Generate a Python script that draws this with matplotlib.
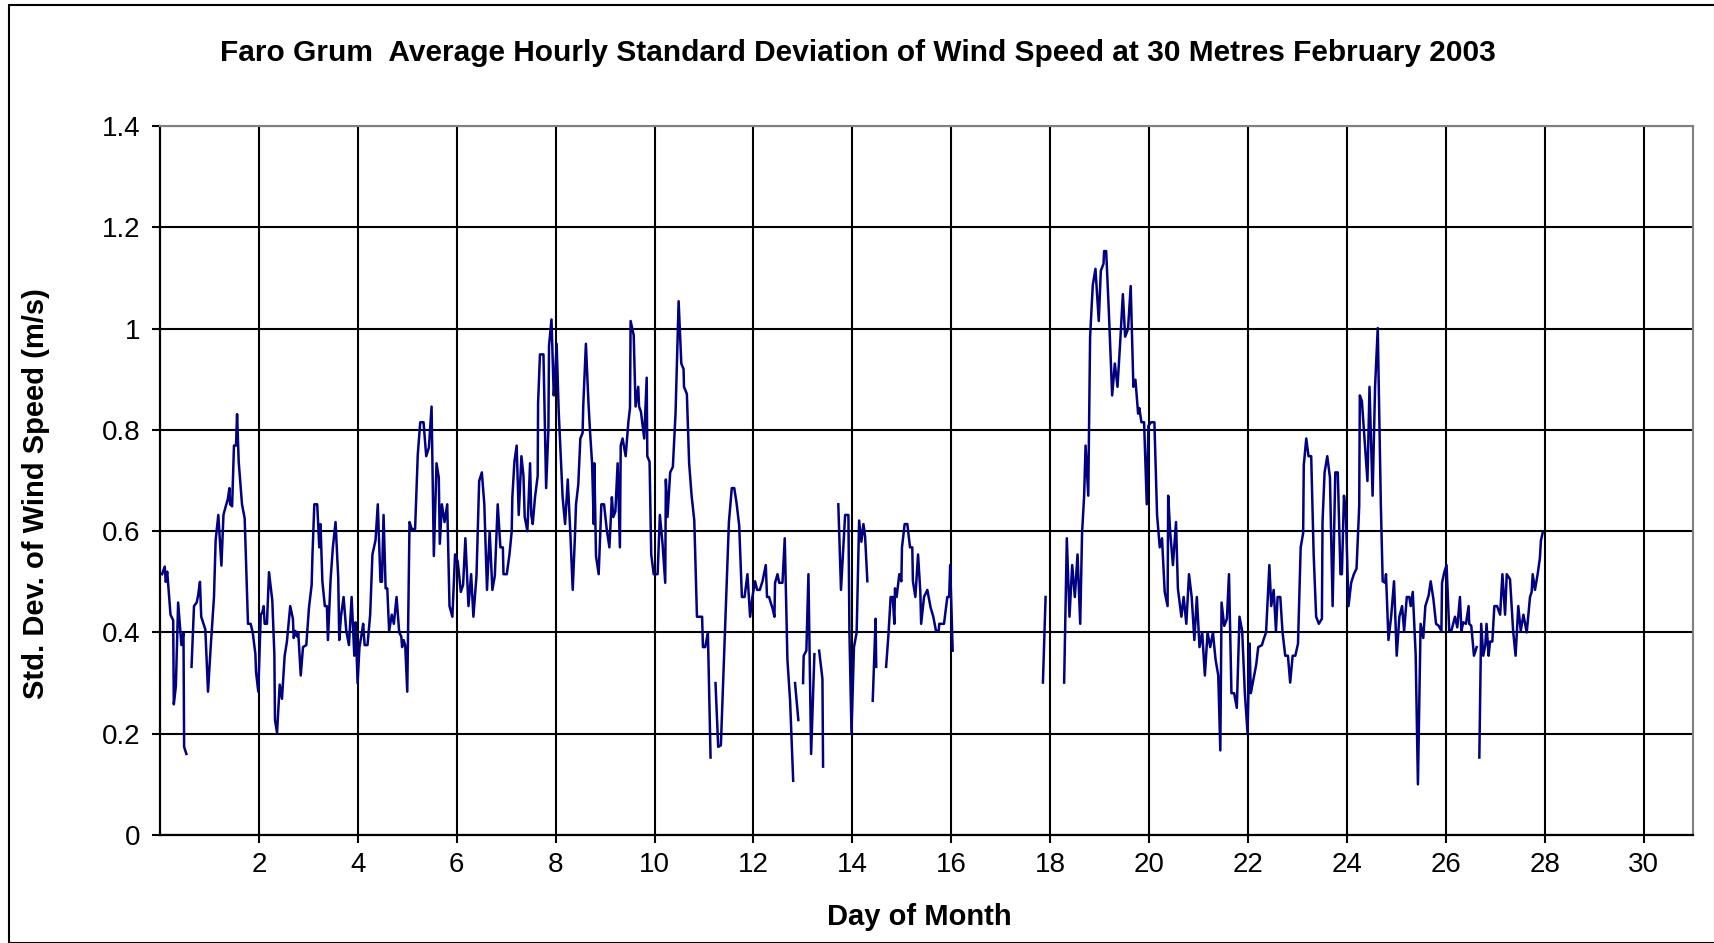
import numpy as np
import matplotlib
matplotlib.use("Agg")
import matplotlib.pyplot as plt
from matplotlib.patches import Rectangle

# ---- data: hour of month (from start) and std. dev. (m/s); None = gap ----
hours = [
    1.0, 2.3, 2.8, 3.5, 5.1, 6.4, 6.7, 7.7, 8.8, 10.4, 11.4, 11.7, 12.8, None,
    15.3, 16.5, 17.8, 18.5, 19.4, 20.0, 20.9, 22.0, 23.3, 24.6, 26.2, 27.0, 28.3, 29.8,
    30.8, 31.9, 32.9, 33.7, 34.0, 35.0, 35.9, 36.9, 37.4, 38.2, 39.8, 41.1, 42.1, 42.7,
    44.0, 45.0, 46.3, 46.6, 47.7, 48.9, 49.7, 50.3, 50.8, 51.9, 52.9,
    54.5, 55.5, 55.8, 56.8, 58.1, 59.2, 60.5, 61.6, 63.2, 64.5, 64.9, 65.7, 66.5, 67.1,
    68.3, 69.4, 71.0, 72.3, 73.6, 74.0, 74.9, 76.3, 77.3, 77.9, 78.8, 80.0, 81.0, 81.5,
    82.8, 83.9, 85.2, 86.5, 87.0, 87.8, 89.1, 90.4, 91.7, 93.0, 94.3, 94.9, 95.9, 96.8,
    98.0, 98.6, 99.3, 100.7, 102.0, 103.1, 104.6, 105.7, 107.0, 107.7, 108.5,
    109.5, 110.3, 111.2, 112.5, 113.5, 114.8, 116.1, 117.1, 117.5, 118.2, 119.0, 120.0,
    121.1, 122.2, 123.8, 125.1, 126.3, 127.9, 129.2, 130.5, 131.8, 132.9, 134.2, 135.3,
    135.8, 136.8, 138.1, 139.4, 140.5, 141.9, 143.2, 144.5, 146.0, 147.1, 148.2, 149.7,
    151.0, 152.1, 153.6, 154.9, 156.2, 157.4, 158.7, 160.0, 161.3, 162.5, 163.9,
    165.2, 166.4, 166.7, 168.3, 169.6, 170.7, 171.0, 172.0, 173.1, 174.1, 175.4, 176.4,
    177.0, 178.3, 179.6, 180.2, 180.9, 182.0, 183.3, 183.5, 184.4, 186.1, 187.4, 188.5,
    188.8, 190.0, 191.1, 191.6, 192.5, 193.5, 194.5, 195.4, 196.6, 197.9, 199.1, 200.3,
    201.3, 201.9, 203.0, 204.0, 205.1, 205.4, 206.7, 207.9, 208.7, 209.7, 210.5, 210.8,
    211.6, 212.9, 214.2, 215.5, 216.8, 218.1, 219.3, 220.0, 221.0, 222.1,
    223.2, 223.6, 224.5, 226.0, 227.3, 228.1, 228.4, 229.9, 230.8, 232.1, 232.5, 233.4,
    235.0, 236.2, 236.5, 237.6, 238.4, 239.6, 241.5, 242.6, 243.9, 245.2, 245.5, 246.3,
    247.6, 248.9, 250.2, 251.7, 253.0, 254.1, 254.3, 255.7, 256.8, 258.0, 259.3, 260.6,
    263.1, 263.5, 264.6, 265.9, 267.2, None,
    269.6, 270.9, 272.2, 276.1, 277.5, 278.7, 279.8, 281.1, 282.4, 283.7, 285.1, 286.4,
    287.5, 288.8, 289.8, 291.1, 292.4, 294.0, 294.6, 295.6, 296.6, 297.2, 298.2, 298.5,
    299.7, 300.5, 302.1, 303.2, 304.5, 305.8, 307.3, None,
    308.2, 309.8, None,
    312.1, 312.4, 313.7, 314.7, 316.0, 317.6, None,
    319.9, 321.5, 321.8, None,
    329.2, 330.5, 332.5, 333.4, 334.1, 334.6, 335.6, 336.8, 338.1, 339.3, 340.4, 341.4,
    342.2, 343.3, None,
    345.9, 347.3, 347.6, None,
    352.4, 353.6, 354.6, 355.6, 356.4, 356.7, 357.5, 358.8, 359.8, 360.1, 361.4, 362.7,
    364.0, 365.1, 365.4, 366.6, 367.9, 369.0, 369.4, 370.8, 372.4, 374.0, 375.3, 376.6,
    377.9, 378.2, 380.5, 382.1, 383.0, 383.5, 384.7, None,
    428.5, 429.8, None,
    438.8, 440.1, 441.4, 442.7, 444.0, 445.3, 446.6, 447.5, 448.5, 449.2, 450.5, 451.4,
    452.7, 454.0, 455.6, 456.6, 457.9, 458.2, 459.2, 460.5, 462.1, 463.4, 464.7, 466.0,
    467.3, 468.4, 469.8, 471.1, 472.4, 473.4, 474.7, 475.3, 476.3, 477.6, 478.9,
    479.7, 481.0, 482.6, 483.9, 485.2, 486.3, 487.6, 489.0, 489.3, 490.3, 491.6, 493.1,
    494.0, 495.7, 496.8, 498.1, 499.4, 500.7, 502.0, 503.2, 504.5, 505.8, 507.1, 508.4,
    509.7, 511.0, 512.3, 513.6, 514.6, 515.2, 516.5, 517.8, 518.8, 520.0, 521.3, 522.6,
    523.9, 525.2, 526.5, 527.8, 528.8, 529.4, 530.7, 532.0, 533.0,
    534.8, 535.5, 536.8, 538.4, 539.3, 540.5, 541.6, 542.4, 543.7, 544.8, 546.1, 547.4,
    548.5, 549.7, 551.0, 552.3, 553.6, 554.8, 555.1, 556.3, 557.4, 558.7, 559.9, 561.1,
    562.4, 563.9, 564.2, 565.2, 566.5, 567.8, 569.1, 570.4, 571.6, 572.9, 573.6, 574.6,
    575.5, 576.8, 578.1, 579.4, 580.7, 582.0, 582.3, 583.3, 586.0, 587.0, 588.5, 589.7,
    591.0, 592.5, 593.4, 594.6, 595.0, 596.2, 597.5, 598.9, 600.2, 601.5, 602.8, 603.8,
    605.1, 606.3, 607.0, 608.0, 609.4, 610.5, 611.8, 613.1, 614.1, 615.7, 616.7, 618.0,
    619.3, 620.6, 621.9, 622.2, 623.3, 624.4, 625.7, 626.7, 628.5, 629.6, 630.9, 631.6,
    632.5, 633.8, 635.1, 635.4, 636.4, 637.7, 639.0, None,
    640.3, 641.2, 642.2, 643.2, 643.8, 644.8, 645.5, 646.6, 647.6, 648.9, 650.4, 651.5,
    652.8, 653.6, 655.2, 656.7, 657.9, 659.2, 660.4, 661.7, 663.3, 664.9, 665.7, 666.2,
    667.3, 668.6, 669.7, 670.2, 671.0,
]

std_dev = [
    0.515, 0.53, 0.50, 0.52, 0.435, 0.424, 0.258, 0.294, 0.459, 0.375, 0.40, 0.174, 0.16, None,
    0.332, 0.452, 0.459, 0.473, 0.50, 0.431, 0.42, 0.406, 0.283, 0.371, 0.47, 0.582, 0.632, 0.532,
    0.632, 0.649, 0.663, 0.685, 0.653, 0.649, 0.769, 0.769, 0.831, 0.737, 0.653, 0.625, 0.491, 0.417,
    0.417, 0.40, 0.357, 0.322, 0.283, 0.435, 0.44, 0.452, 0.417, 0.417, 0.519,
    0.463, 0.357, 0.227, 0.202, 0.297, 0.269, 0.354, 0.382, 0.452, 0.427, 0.389, 0.403, 0.392, 0.40,
    0.315, 0.371, 0.375, 0.449, 0.494, 0.554, 0.653, 0.653, 0.568, 0.614, 0.501, 0.452, 0.452, 0.385,
    0.505, 0.568, 0.618, 0.508, 0.385, 0.431, 0.47, 0.403, 0.375, 0.47, 0.354, 0.42, 0.30, 0.371,
    0.40, 0.417, 0.375, 0.375, 0.435, 0.554, 0.582, 0.653, 0.50, 0.50, 0.632,
    0.487, 0.487, 0.403, 0.435, 0.417, 0.47, 0.40, 0.392, 0.371, 0.385, 0.375, 0.283,
    0.618, 0.604, 0.604, 0.751, 0.815, 0.815, 0.748, 0.765, 0.846, 0.551, 0.734, 0.706,
    0.575, 0.653, 0.618, 0.653, 0.452, 0.431, 0.554, 0.54, 0.48, 0.494, 0.586, 0.452,
    0.515, 0.431, 0.512, 0.699, 0.716, 0.653, 0.484, 0.60, 0.484, 0.512, 0.653,
    0.568, 0.568, 0.515, 0.515, 0.554, 0.60, 0.667, 0.737, 0.769, 0.632, 0.748, 0.709,
    0.628, 0.60, 0.734, 0.632, 0.614, 0.667, 0.709, 0.854, 0.949, 0.949, 0.685, 0.801,
    0.966, 1.018, 0.868, 0.896, 0.970, 0.836, 0.748, 0.667, 0.614, 0.702, 0.60, 0.484,
    0.582, 0.653, 0.692, 0.783, 0.794, 0.846, 0.970, 0.857, 0.797, 0.734, 0.614, 0.734,
    0.551, 0.515, 0.653, 0.653, 0.604, 0.568, 0.667, 0.628, 0.639, 0.734,
    0.568, 0.769, 0.783, 0.748, 0.815, 0.843, 1.015, 0.987, 0.846, 0.885, 0.846, 0.836,
    0.783, 0.903, 0.748, 0.737, 0.554, 0.515, 0.515, 0.632, 0.575, 0.498, 0.702, 0.628,
    0.716, 0.727, 0.832, 1.054, 0.931, 0.920, 0.885, 0.871, 0.734, 0.670, 0.621, 0.431,
    0.431, 0.371, 0.371, 0.40, 0.153, None,
    0.30, 0.174, 0.177, 0.618, 0.685, 0.685, 0.656, 0.611, 0.47, 0.47, 0.515, 0.431,
    0.47, 0.501, 0.484, 0.484, 0.501, 0.533, 0.47, 0.47, 0.456, 0.449, 0.431, 0.498,
    0.515, 0.498, 0.498, 0.586, 0.346, 0.265, 0.107, None,
    0.30, 0.227, None,
    0.30, 0.354, 0.364, 0.515, 0.16, 0.357, None,
    0.364, 0.308, 0.135, None,
    0.653, 0.484, 0.632, 0.632, 0.632, 0.40, 0.202, 0.371, 0.40, 0.621, 0.579, 0.614,
    0.589, 0.501, None,
    0.265, 0.427, 0.332, None,
    0.332, 0.40, 0.47, 0.47, 0.417, 0.487, 0.47, 0.515, 0.501, 0.568, 0.614, 0.614,
    0.568, 0.568, 0.501, 0.47, 0.554, 0.48, 0.417, 0.47, 0.484, 0.449, 0.431, 0.403,
    0.403, 0.417, 0.417, 0.47, 0.47, 0.533, 0.364, None,
    0.301, 0.47, None,
    0.301, 0.586, 0.431, 0.533, 0.47, 0.554, 0.417, 0.596, 0.670, 0.769, 0.670, 0.984,
    1.086, 1.118, 1.015, 1.114, 1.128, 1.153, 1.153, 1.033, 0.868, 0.931, 0.885, 0.973,
    1.068, 0.984, 0.999, 1.084, 0.885, 0.899, 0.832, 0.843, 0.815, 0.815, 0.653,
    0.808, 0.815, 0.815, 0.632, 0.568, 0.586, 0.48, 0.452, 0.670, 0.596, 0.533, 0.618,
    0.487, 0.431, 0.47, 0.417, 0.515, 0.47, 0.385, 0.47, 0.371, 0.40, 0.315, 0.40,
    0.371, 0.40, 0.346, 0.315, 0.167, 0.459, 0.413, 0.427, 0.515, 0.28, 0.28, 0.251,
    0.431, 0.403, 0.28, 0.202, 0.378, 0.28, 0.308, 0.336, 0.371,
    0.375, 0.385, 0.40, 0.533, 0.452, 0.484, 0.403, 0.47, 0.47, 0.40, 0.354, 0.354,
    0.301, 0.354, 0.354, 0.378, 0.568, 0.596, 0.730, 0.783, 0.748, 0.748, 0.554, 0.431,
    0.417, 0.427, 0.618, 0.716, 0.748, 0.706, 0.452, 0.716, 0.716, 0.515, 0.515, 0.670,
    0.639, 0.452, 0.498, 0.515, 0.526, 0.649, 0.868, 0.857, 0.699, 0.885, 0.670, 0.885,
    1.001, 0.653, 0.501, 0.498, 0.515, 0.385, 0.431, 0.501, 0.354, 0.431, 0.452, 0.403,
    0.47, 0.47, 0.452, 0.48, 0.357, 0.10, 0.417, 0.389, 0.452, 0.473, 0.501, 0.466,
    0.417, 0.413, 0.403, 0.498, 0.519, 0.533, 0.403, 0.403, 0.431, 0.41, 0.47, 0.403,
    0.42, 0.417, 0.452, 0.417, 0.413, 0.354, 0.371, None,
    0.153, 0.417, 0.354, 0.375, 0.417, 0.354, 0.382, 0.382, 0.452, 0.452, 0.435, 0.515,
    0.435, 0.515, 0.505, 0.403, 0.354, 0.452, 0.403, 0.435, 0.40, 0.47, 0.48, 0.515,
    0.484, 0.515, 0.547, 0.582, 0.596,
]

x_ticks = list(range(2, 31, 2))
y_ticks = [0, 0.2, 0.4, 0.6, 0.8, 1.0, 1.2, 1.4]
y_tick_labels = ["0", "0.2", "0.4", "0.6", "0.8", "1", "1.2", "1.4"]

title = "Faro Grum  Average Hourly Standard Deviation of Wind Speed at 30 Metres February 2003"
x_label = "Day of Month"
y_label = "Std. Dev. of Wind Speed (m/s)"

# ---- drawing ----
plt.rcParams['font.family'] = ['Liberation Sans', 'DejaVu Sans']

W, H = 1715, 943
fig = plt.figure(figsize=(W / 100, H / 100), dpi=100)
fig.patch.set_facecolor("white")

# outer chart-area border
fig.add_artist(Rectangle((9 / W, 0), 1 - 9 / W, 1 - 5 / H, transform=fig.transFigure,
                         fill=False, edgecolor="black", linewidth=1.5))

L, R, T, B = 160, 1693, 126, 835
ax = fig.add_axes([L / W, 1 - B / H, (R - L) / W, (B - T) / H])

x = np.array([np.nan if h is None else h / 24.0 for h in hours], dtype=float)
y = np.array([np.nan if v is None else v for v in std_dev], dtype=float)

ax.plot(x, y, color="#000080", linewidth=1.8, zorder=3)

ax.set_xlim(0, 31)
ax.set_ylim(0, 1.4)
ax.set_xticks(x_ticks)
ax.set_xticklabels([str(t) for t in x_ticks], fontsize=20)
ax.set_yticks(y_ticks)
ax.set_yticklabels(y_tick_labels, fontsize=20)
ax.grid(True, color="black", linewidth=1.5, zorder=1)
ax.set_axisbelow(True)
ax.tick_params(axis="y", direction="out", length=6, width=1.5, color="black", pad=8)
ax.tick_params(axis="x", direction="out", length=6, width=1.5, color="black", pad=6)

for side in ["top", "right"]:
    ax.spines[side].set_color("#808080")
    ax.spines[side].set_linewidth(1.5)
for side in ["left", "bottom"]:
    ax.spines[side].set_color("black")
    ax.spines[side].set_linewidth(1.6)

fig.text(0.5, 1 - 53 / H, title, ha="center", va="center",
         fontsize=21.5, fontweight="bold")
fig.text(919 / W, 1 - 917 / H, x_label, ha="center", va="center",
         fontsize=21, fontweight="bold")
fig.text(36 / W, 1 - 494 / H, y_label, ha="center", va="center", rotation=90,
         fontsize=21, fontweight="bold")

fig.savefig("out.png", dpi=100, facecolor="white")
